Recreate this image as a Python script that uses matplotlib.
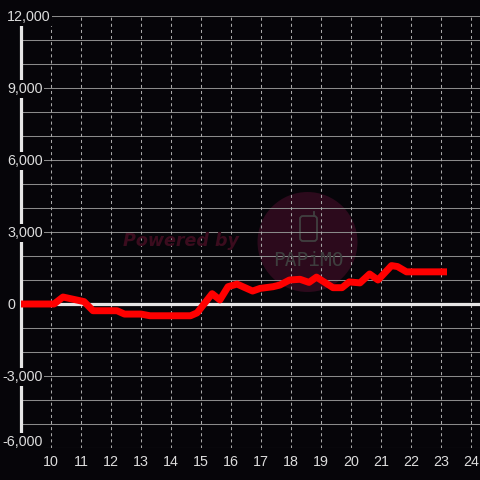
import matplotlib
matplotlib.use("Agg")
import matplotlib.pyplot as plt
from matplotlib.patches import Circle, FancyBboxPatch
from matplotlib.transforms import IdentityTransform
from matplotlib.lines import Line2D

# ---- data ----
hours = [9.0, 10.1, 10.4, 11.1, 11.4, 12.2, 12.45, 13.0, 13.3, 14.65, 14.87,
         15.37, 15.63, 15.9, 16.2, 16.72, 16.97, 17.4, 17.63, 17.95, 18.3,
         18.6, 18.85, 19.4, 19.7, 19.94, 20.3, 20.62, 20.9, 21.35, 21.55,
         21.85, 23.2]
values = [0, 0, 290, 100, -280, -280, -420, -420, -490, -490, -370,
          430, 170, 720, 830, 540, 650, 720, 790, 1000, 1030,
          900, 1120, 680, 680, 920, 880, 1250, 1000, 1600, 1560,
          1340, 1340]
x_ticks = [10, 11, 12, 13, 14, 15, 16, 17, 18, 19, 20, 21, 22, 23, 24]
x_tick_labels = ["10", "11", "12", "13", "14", "15", "16", "17", "18", "19",
                 "20", "21", "22", "23", "24"]
y_ticks = [-6000, -3000, 0, 3000, 6000, 9000, 12000]
y_tick_labels = ["-6,000", "-3,000", "0", "3,000", "6,000", "9,000", "12,000"]
y_grid = [-6000, -5000, -4000, -3000, -2000, -1000, 0, 1000, 2000, 3000,
          4000, 5000, 6000, 7000, 8000, 9000, 10000, 11000, 12000]

plt.rcParams["lines.scale_dashes"] = False
BG = "#060509"
W = H = 480
fig = plt.figure(figsize=(4.8, 4.8), dpi=100, facecolor=BG)
ax = fig.add_axes([21 / W, 32 / H, 459 / W, 432 / H])
ax.set_facecolor(BG)
ax.set_xlim(9, 9 + 459 / 30)
ax.set_ylim(-6000, 12000)
for s in ax.spines.values():
    s.set_visible(False)
ax.set_xticks([])
ax.set_yticks([])

ident = IdentityTransform()

# watermark circle
ax.add_patch(Circle((307.5, H - 242), 50, transform=ident,
                    facecolor="#2c0a1c", edgecolor="none", zorder=0.5))

# grid
for g in y_grid:
    ax.axhline(g, color="#8a8a8a", lw=0.75, zorder=1)
for h in x_ticks:
    ax.axvline(h, color="#a8a8a8", lw=0.75, ls=(0, (2.2, 2.2)), zorder=1)

# zero line and left axis line
ax.axhline(0, color="#e6e6e6", lw=2.3, zorder=2)
ax.axvline(9, color="#e6e6e6", lw=2.3, zorder=2, clip_on=False)

# watermark texts
fig.text(180.5, H - 246.5, "Powered by", transform=ident, ha="center",
         va="baseline", fontsize=12.6, fontweight="bold", fontstyle="oblique",
         family="DejaVu Sans", color="#3b0c1e", zorder=1)
fig.text(308, H - 266, "PAPiMO", transform=ident, ha="center",
         va="baseline", fontsize=14, family="DejaVu Sans Mono",
         color="#3e3e3e", zorder=1)
ax.add_patch(FancyBboxPatch((300, H - 241), 17, 25, transform=ident,
                            boxstyle="round,pad=0,rounding_size=3",
                            fill=False, edgecolor="#404040", lw=1.3,
                            zorder=0.6))
ax.add_line(Line2D([314, 314], [H - 216, H - 212], transform=ident,
                   color="#404040", lw=1.3, zorder=0.6))

# data line
ax.plot(hours, values, color="#ff0000", lw=5, solid_joinstyle="round",
        solid_capstyle="butt", zorder=5)

# y labels
for v, lab in zip(y_ticks, y_tick_labels):
    yd = ax.transData.transform((9.0, v))[1]
    base = max(yd - 5, H - 446)
    xp = 7 if v >= 0 else 2
    fig.text(xp, base, lab, transform=ident, ha="left", va="baseline",
             fontsize=10.3, family="Liberation Sans", color="#dcdcdc",
             bbox=dict(facecolor=BG, edgecolor="none", pad=1.2), zorder=6)

# x labels
for h, lab in zip(x_ticks, x_tick_labels):
    xd = ax.transData.transform((h, 0))[0]
    fig.text(xd, H - 466, lab, transform=ident, ha="center", va="baseline",
             fontsize=10.3, family="Liberation Sans", color="#dcdcdc")

fig.savefig("out.png", dpi=100, facecolor=BG)
